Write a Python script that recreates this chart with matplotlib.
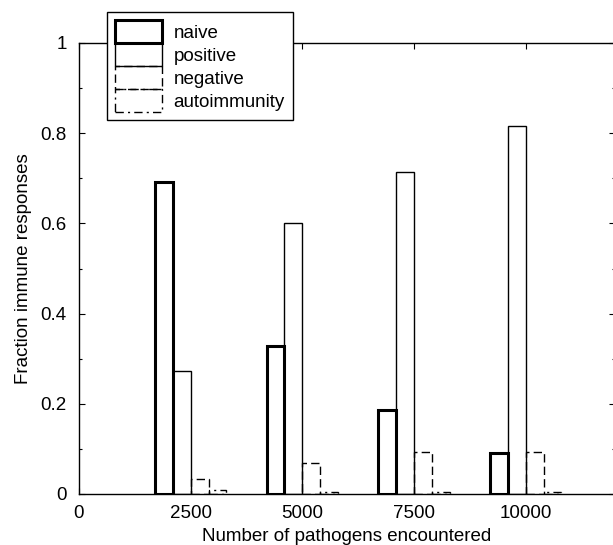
import numpy as np
import matplotlib
matplotlib.use('Agg')
import matplotlib.pyplot as plt
from matplotlib.ticker import MultipleLocator, FormatStrFormatter

# data
pathogens = [2500, 5000, 7500, 10000]
naive = [0.692, 0.328, 0.187, 0.091]
positive = [0.273, 0.601, 0.714, 0.816]
negative = [0.033, 0.069, 0.093, 0.093]
autoimmunity = [0.008, 0.004, 0.005, 0.004]

labels = ['naive', 'positive', 'negative', 'autoimmunity']
series = [naive, positive, negative, autoimmunity]

plt.rcParams['font.family'] = ['Liberation Sans', 'DejaVu Sans']

fig = plt.figure(figsize=(6.13, 5.45), dpi=100)
ax = fig.add_axes([79/613., 51/545., 536/613., 451/545.])

width = 400
offsets = [-600, -200, 200, 600]
lws = [2.2, 1.0, 1.0, 1.0]
styles = ['-', '-', (0, (6, 3)), (0, (6, 3, 1.5, 3))]

handles = []
for k in range(4):
    x = np.array(pathogens) + offsets[k]
    b = ax.bar(x, series[k], width=width, fill=False, edgecolor='k',
               linewidth=lws[k], linestyle=styles[k], label=labels[k],
               zorder=3 - k * 0.1)
    handles.append(b)

ax.set_xlim(0, 12000)
ax.set_ylim(0, 1)
ax.set_xticks([0, 2500, 5000, 7500, 10000])
ax.yaxis.set_major_locator(MultipleLocator(0.2))
ax.yaxis.set_minor_locator(MultipleLocator(0.1))
ax.yaxis.set_major_formatter(FormatStrFormatter('%g'))

fs = 13.5
ax.tick_params(axis='both', which='both', direction='in',
               top=True, right=True, labelsize=fs, width=0.8, colors='k')
ax.tick_params(axis='x', which='major', length=4.5, pad=8)
ax.tick_params(axis='y', which='major', length=4.5, pad=9)
ax.tick_params(axis='both', which='minor', length=2.5)
for s in ax.spines.values():
    s.set_linewidth(1.0)

ax.set_xlabel('Number of pathogens encountered', fontsize=fs, labelpad=4)
ax.set_ylabel('Fraction immune responses', fontsize=fs, labelpad=6)

leg = ax.legend(handles=handles, loc='upper left', bbox_to_anchor=(28/536., 1 + 31/451.),
                fontsize=fs, frameon=True, fancybox=False, framealpha=1,
                edgecolor='k', labelspacing=0, handlelength=2.5,
                handleheight=1.5, handletextpad=0.6, borderpad=0.45,
                borderaxespad=0)
leg.get_frame().set_linewidth(1.0)
leg.set_zorder(10)

plt.savefig('out.png', dpi=100)
plt.close()
